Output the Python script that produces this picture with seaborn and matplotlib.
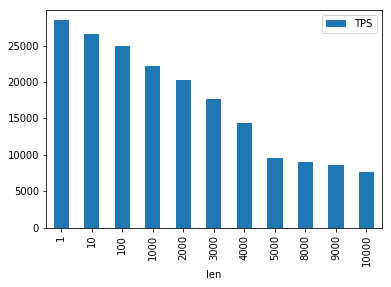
import matplotlib
matplotlib.use("Agg")
import matplotlib.pyplot as plt
import seaborn as sns
import pandas as pd

lens = ["1", "10", "100", "1000", "2000", "3000", "4000", "5000", "8000", "9000", "10000"]
tps = [28450, 26550, 24900, 22150, 20250, 17650, 14350, 9550, 9000, 8600, 7650]

df = pd.DataFrame({"len": lens, "TPS": tps})

fig = plt.figure(figsize=(391/72, 287/72), dpi=72)
ax = fig.add_axes([46/391, 1 - 227.7/287, (381.7 - 46)/391, (227.7 - 10)/287])
sns.barplot(data=df, x="len", y="TPS", color="#1f77b4", saturation=1, width=0.5,
            label="TPS", ax=ax)
ax.set_xlim(-0.5, len(lens) - 0.5)
ax.set_ylabel("")
ax.set_xlabel("len")
ax.tick_params(axis="x", rotation=90)
ax.legend(loc="upper right")
fig.savefig("out.png", dpi=72)
